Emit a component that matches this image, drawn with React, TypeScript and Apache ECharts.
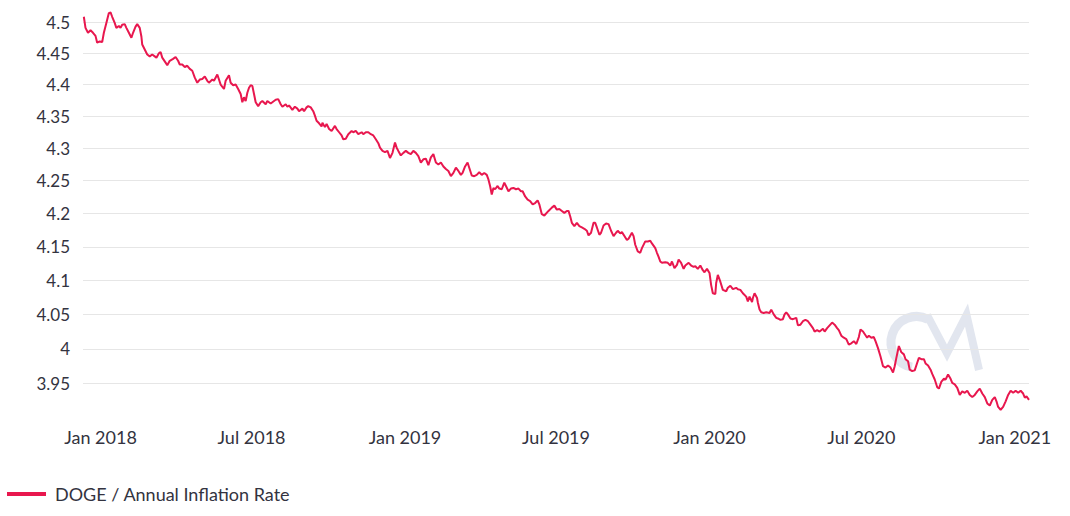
import React, { useEffect, useRef } from 'react';
import * as echarts from 'echarts';

const seriesName = 'DOGE / Annual Inflation Rate';

const dates: string[] = [
  '2017-12-12','2017-12-14','2017-12-17','2017-12-20','2017-12-23','2017-12-26','2017-12-28','2017-12-31',
  '2018-01-03','2018-01-05','2018-01-08','2018-01-11','2018-01-13','2018-01-15','2018-01-18','2018-01-20',
  '2018-01-23','2018-01-25','2018-01-27','2018-01-30','2018-02-01','2018-02-04','2018-02-07','2018-02-09',
  '2018-02-12','2018-02-14','2018-02-17','2018-02-19','2018-02-20','2018-02-23','2018-02-26','2018-03-01',
  '2018-03-04','2018-03-07','2018-03-09','2018-03-12','2018-03-14','2018-03-16','2018-03-20','2018-03-22',
  '2018-03-25','2018-03-29','2018-04-01','2018-04-04','2018-04-06','2018-04-09','2018-04-12','2018-04-15',
  '2018-04-18','2018-04-21','2018-04-24','2018-04-27','2018-04-30','2018-05-03','2018-05-06','2018-05-09',
  '2018-05-11','2018-05-15','2018-05-17','2018-05-21','2018-05-23','2018-05-25','2018-05-29','2018-05-31',
  '2018-06-04','2018-06-06','2018-06-09','2018-06-12','2018-06-15','2018-06-18','2018-06-20','2018-06-22',
  '2018-06-24','2018-06-26','2018-06-28','2018-06-30','2018-07-02','2018-07-04','2018-07-06','2018-07-09',
  '2018-07-12','2018-07-14','2018-07-18','2018-07-20','2018-07-24','2018-07-26','2018-07-30','2018-08-02',
  '2018-08-05','2018-08-07','2018-08-11','2018-08-13','2018-08-15','2018-08-19','2018-08-22','2018-08-25',
  '2018-08-27','2018-08-31','2018-09-02','2018-09-05','2018-09-07','2018-09-10','2018-09-13','2018-09-15',
  '2018-09-17','2018-09-20','2018-09-23','2018-09-24','2018-09-27','2018-09-29','2018-10-02','2018-10-05',
  '2018-10-09','2018-10-11','2018-10-14','2018-10-17','2018-10-19','2018-10-22','2018-10-25','2018-10-29',
  '2018-10-31','2018-11-03','2018-11-06','2018-11-10','2018-11-12','2018-11-15','2018-11-18','2018-11-21',
  '2018-11-24','2018-11-27','2018-11-30','2018-12-02','2018-12-05','2018-12-08','2018-12-11','2018-12-14',
  '2018-12-17','2018-12-20','2018-12-22','2018-12-24','2018-12-27','2018-12-30','2019-01-02','2019-01-05',
  '2019-01-08','2019-01-11','2019-01-14','2019-01-17','2019-01-20','2019-01-23','2019-01-26','2019-01-29',
  '2019-02-01','2019-02-04','2019-02-07','2019-02-10','2019-02-13','2019-02-16','2019-02-19','2019-02-22',
  '2019-02-25','2019-02-28','2019-03-03','2019-03-06','2019-03-09','2019-03-11','2019-03-14','2019-03-17',
  '2019-03-19','2019-03-22','2019-03-25','2019-03-28','2019-03-31','2019-04-03','2019-04-06','2019-04-09',
  '2019-04-11','2019-04-13','2019-04-15','2019-04-17','2019-04-19','2019-04-22','2019-04-24','2019-04-27',
  '2019-04-30','2019-05-02','2019-05-05','2019-05-08','2019-05-11','2019-05-14','2019-05-17','2019-05-20',
  '2019-05-22','2019-05-25','2019-05-28','2019-05-31','2019-06-03','2019-06-06','2019-06-09','2019-06-11',
  '2019-06-14','2019-06-17','2019-06-22','2019-06-26','2019-06-29','2019-07-02','2019-07-05','2019-07-08',
  '2019-07-11','2019-07-14','2019-07-16','2019-07-18','2019-07-20','2019-07-23','2019-07-26','2019-07-29',
  '2019-08-01','2019-08-04','2019-08-07','2019-08-09','2019-08-12','2019-08-15','2019-08-17','2019-08-19',
  '2019-08-22','2019-08-24','2019-08-27','2019-08-30','2019-09-02','2019-09-05','2019-09-08','2019-09-11',
  '2019-09-13','2019-09-16','2019-09-18','2019-09-21','2019-09-24','2019-09-26','2019-09-30','2019-10-02',
  '2019-10-04','2019-10-07','2019-10-10','2019-10-12','2019-10-16','2019-10-19','2019-10-22','2019-10-24',
  '2019-10-28','2019-10-30','2019-11-01','2019-11-03','2019-11-05','2019-11-09','2019-11-12','2019-11-15',
  '2019-11-17','2019-11-20','2019-11-23','2019-11-25','2019-11-28','2019-12-01','2019-12-03','2019-12-07',
  '2019-12-10','2019-12-13','2019-12-15','2019-12-18','2019-12-21','2019-12-24','2019-12-26','2019-12-29',
  '2020-01-01','2020-01-03','2020-01-05','2020-01-08','2020-01-09','2020-01-11','2020-01-14','2020-01-17',
  '2020-01-21','2020-01-23','2020-01-26','2020-01-29','2020-02-02','2020-02-04','2020-02-07','2020-02-10',
  '2020-02-14','2020-02-16','2020-02-18','2020-02-21','2020-02-22','2020-02-24','2020-02-27','2020-02-28',
  '2020-03-01','2020-03-03','2020-03-06','2020-03-09','2020-03-13','2020-03-15','2020-03-18','2020-03-21',
  '2020-03-23','2020-03-26','2020-03-29','2020-03-31','2020-04-02','2020-04-04','2020-04-07','2020-04-10',
  '2020-04-14','2020-04-16','2020-04-19','2020-04-22','2020-04-25','2020-04-28','2020-05-01','2020-05-04',
  '2020-05-06','2020-05-09','2020-05-12','2020-05-16','2020-05-18','2020-05-21','2020-05-24','2020-05-27',
  '2020-05-30','2020-06-02','2020-06-04','2020-06-07','2020-06-10','2020-06-13','2020-06-16','2020-06-19',
  '2020-06-22','2020-06-25','2020-06-28','2020-06-30','2020-07-03','2020-07-08','2020-07-10','2020-07-13',
  '2020-07-16','2020-07-18','2020-07-21','2020-07-24','2020-07-27','2020-07-30','2020-08-02','2020-08-05',
  '2020-08-08','2020-08-10','2020-08-12','2020-08-15','2020-08-18','2020-08-21','2020-08-23','2020-08-26',
  '2020-08-28','2020-08-31','2020-09-03','2020-09-06','2020-09-08','2020-09-11','2020-09-14','2020-09-16',
  '2020-09-19','2020-09-22','2020-09-24','2020-09-27','2020-09-30','2020-10-02','2020-10-05','2020-10-08',
  '2020-10-10','2020-10-13','2020-10-16','2020-10-18','2020-10-21','2020-10-24','2020-10-27','2020-10-30',
  '2020-11-02','2020-11-05','2020-11-08','2020-11-11','2020-11-14','2020-11-17','2020-11-20','2020-11-23',
  '2020-11-26','2020-11-29','2020-12-02','2020-12-05','2020-12-08','2020-12-10','2020-12-12','2020-12-15',
  '2020-12-18','2020-12-21','2020-12-24','2020-12-27','2020-12-30','2021-01-02','2021-01-05','2021-01-08',
  '2021-01-11','2021-01-13','2021-01-15','2021-01-18',
];

const inflation: number[] = [
  4.509,4.491,4.483,4.487,4.483,4.478,4.467,4.469,
  4.468,4.483,4.499,4.515,4.516,4.509,4.499,4.491,
  4.494,4.491,4.496,4.497,4.491,4.483,4.475,4.483,
  4.493,4.497,4.491,4.477,4.464,4.456,4.448,4.445,
  4.448,4.445,4.443,4.450,4.452,4.443,4.435,4.431,
  4.438,4.441,4.444,4.438,4.432,4.432,4.428,4.430,
  4.425,4.422,4.411,4.403,4.408,4.409,4.413,4.406,
  4.403,4.408,4.406,4.416,4.408,4.400,4.393,4.406,
  4.415,4.403,4.399,4.400,4.393,4.385,4.372,4.380,
  4.374,4.387,4.395,4.399,4.398,4.385,4.372,4.366,
  4.372,4.374,4.369,4.374,4.370,4.372,4.376,4.377,
  4.369,4.365,4.369,4.365,4.367,4.360,4.365,4.362,
  4.358,4.362,4.358,4.364,4.366,4.364,4.358,4.351,
  4.343,4.339,4.334,4.340,4.333,4.338,4.330,4.327,
  4.335,4.330,4.325,4.320,4.314,4.315,4.322,4.327,
  4.325,4.327,4.322,4.325,4.322,4.325,4.325,4.322,
  4.320,4.314,4.308,4.301,4.296,4.294,4.296,4.285,
  4.293,4.309,4.301,4.296,4.289,4.293,4.296,4.293,
  4.291,4.296,4.293,4.288,4.278,4.283,4.284,4.274,
  4.286,4.291,4.278,4.275,4.278,4.272,4.268,4.265,
  4.257,4.262,4.270,4.265,4.259,4.262,4.272,4.278,
  4.270,4.258,4.257,4.259,4.263,4.259,4.262,4.259,
  4.252,4.242,4.229,4.239,4.237,4.242,4.238,4.237,
  4.247,4.242,4.234,4.238,4.239,4.237,4.238,4.234,
  4.234,4.226,4.221,4.219,4.214,4.216,4.220,4.214,
  4.199,4.197,4.204,4.209,4.212,4.206,4.207,4.204,
  4.201,4.204,4.204,4.196,4.186,4.181,4.186,4.181,
  4.179,4.177,4.174,4.167,4.171,4.186,4.186,4.179,
  4.168,4.171,4.182,4.185,4.184,4.174,4.166,4.171,
  4.174,4.170,4.172,4.166,4.160,4.162,4.171,4.166,
  4.153,4.143,4.141,4.148,4.158,4.158,4.159,4.155,
  4.148,4.141,4.135,4.128,4.126,4.127,4.126,4.122,
  4.128,4.118,4.123,4.131,4.126,4.117,4.122,4.126,
  4.122,4.120,4.121,4.117,4.122,4.115,4.112,4.117,
  4.111,4.093,4.081,4.080,4.096,4.108,4.098,4.086,
  4.084,4.089,4.092,4.087,4.089,4.087,4.086,4.081,
  4.076,4.069,4.076,4.068,4.074,4.081,4.074,4.067,
  4.057,4.053,4.052,4.053,4.052,4.057,4.050,4.045,
  4.044,4.042,4.043,4.050,4.053,4.050,4.044,4.043,
  4.045,4.034,4.035,4.040,4.042,4.040,4.035,4.030,
  4.025,4.027,4.025,4.029,4.025,4.030,4.034,4.038,
  4.035,4.030,4.027,4.019,4.016,4.014,4.006,4.008,
  4.011,4.007,4.017,4.028,4.025,4.016,4.019,4.016,
  4.017,4.011,4.001,3.989,3.975,3.973,3.976,3.973,
  3.966,3.975,3.987,4.004,3.995,3.992,3.985,3.982,
  3.970,3.968,3.969,3.980,3.987,3.985,3.985,3.979,
  3.976,3.970,3.964,3.956,3.945,3.943,3.953,3.957,
  3.956,3.963,3.957,3.951,3.949,3.944,3.934,3.939,
  3.937,3.940,3.934,3.931,3.934,3.939,3.943,3.936,
  3.931,3.922,3.919,3.927,3.931,3.925,3.917,3.913,
  3.917,3.925,3.934,3.940,3.937,3.940,3.937,3.940,
  3.936,3.930,3.932,3.927,
];

const yTicks: number[] = [3.95, 4, 4.05, 4.1, 4.15, 4.2, 4.25, 4.3, 4.35, 4.4, 4.45, 4.5];
const xTicks: string[] = ['2018-01-01', '2018-07-01', '2019-01-01', '2019-07-01', '2020-01-01', '2020-07-01', '2021-01-01'];
const monthNames: string[] = ['Jan','Feb','Mar','Apr','May','Jun','Jul','Aug','Sep','Oct','Nov','Dec'];
const xStart = '2017-12-11';
const xEnd = '2021-01-18';

const LINE_COLOR = '#e8174e';
const TEXT_COLOR = '#333340';
const FONT = 'Lato, "Open Sans", sans-serif';
const MARK_COLOR = '#e2e6ef';

const toTime = (s: string) => Date.parse(s + 'T00:00:00Z');

export default function App() {
  const ref = useRef<HTMLDivElement>(null);

  useEffect(() => {
    document.body.style.margin = '0';
    const chart = echarts.init(ref.current as HTMLDivElement, null, { renderer: 'svg' });
    chart.setOption({
      animation: false,
      grid: { left: 83, right: 41, top: 10, bottom: 97 },
      xAxis: {
        type: 'value',
        min: toTime(xStart),
        max: toTime(xEnd),
        axisLine: { show: false },
        axisTick: { show: false, customValues: xTicks.map(toTime) },
        splitLine: { show: false },
        axisLabel: {
          customValues: xTicks.map(toTime),
          color: TEXT_COLOR,
          fontFamily: FONT,
          fontSize: 18,
          margin: 9,
          formatter: (v: number) => {
            const d = new Date(v);
            return monthNames[d.getUTCMonth()] + ' ' + d.getUTCFullYear();
          },
        },
      },
      yAxis: {
        type: 'log',
        logBase: 10,
        min: 3.9,
        max: 4.52,
        axisLine: { show: false },
        axisTick: { show: false, customValues: yTicks },
        splitLine: { show: true, lineStyle: { color: '#e6e6e6', width: 1 } },
        axisLabel: {
          customValues: yTicks,
          color: TEXT_COLOR,
          fontFamily: FONT,
          fontSize: 17,
          margin: 13,
          formatter: (v: number) => String(Number(Number(v).toFixed(2))),
        },
      },
      legend: {
        show: true,
        left: 2,
        top: 480,
        icon: 'rect',
        itemWidth: 39,
        itemHeight: 4,
        textStyle: { color: TEXT_COLOR, fontFamily: FONT, fontSize: 18, padding: [0, 0, 0, 4] },
        data: [seriesName],
      },
      graphic: [
        {
          type: 'arc',
          z: 0,
          silent: true,
          shape: { cx: 916.5, cy: 342, r: 25.5, startAngle: 1.75, endAngle: 5.2, clockwise: true },
          style: { stroke: MARK_COLOR, lineWidth: 9, fill: 'none' },
        },
        {
          type: 'polyline',
          z: 0,
          silent: true,
          shape: { points: [[927, 315], [947, 353], [966.5, 315], [979, 370]] },
          style: { stroke: MARK_COLOR, lineWidth: 8, fill: 'none', lineJoin: 'miter' },
        },
      ],
      series: [
        {
          name: seriesName,
          type: 'line',
          data: dates.map((d, i) => [toTime(d), inflation[i]]),
          showSymbol: false,
          symbol: 'none',
          lineStyle: { color: LINE_COLOR, width: 2 },
          itemStyle: { color: LINE_COLOR },
          z: 3,
        },
      ],
    });
    return () => chart.dispose();
  }, []);

  return <div ref={ref} style={{ position: 'absolute', left: 0, top: 0, width: 1070, height: 516 }} />;
}
